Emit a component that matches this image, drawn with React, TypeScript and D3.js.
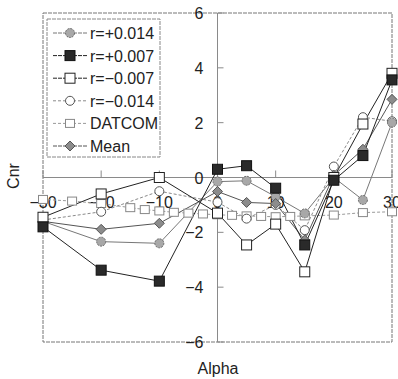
import * as d3 from 'd3';

const ALPHA = [-30, -20, -10, 0, 5, 10, 15, 20, 25, 30];
const R_P014 = [-1.6, -2.34, -2.4, -0.15, -0.12, -0.7, -1.31, 0.0, -0.82, 2.0];
const R_P007 = [-1.8, -3.38, -3.78, 0.3, 0.43, -0.39, -2.46, -0.1, 0.8, 3.56];
const R_M007 = [-1.45, -0.6, 0.0, -1.3, -2.46, -1.7, -3.44, 0.0, 1.95, 3.8];
const R_M014 = [-1.55, -1.25, -0.5, -0.9, -1.5, -1.0, -1.92, 0.4, 2.2, 2.05];
const MEAN = [-1.6, -1.89, -1.67, -0.51, -0.91, -0.95, -2.28, 0.08, 1.03, 2.85];

const DATCOM_ALPHA = [-30, -25, -20, -15, -12.5, -10, -7.5, -5, -2.5, 0, 2.5, 5, 7.5, 10, 12.5, 15, 20, 25, 30];
const DATCOM = [-0.8, -0.86, -0.95, -1.1, -1.17, -1.22, -1.27, -1.3, -1.33, -1.36, -1.38, -1.4, -1.42, -1.43, -1.42, -1.4, -1.37, -1.28, -1.25];

const X_TICKS = [-30, -20, -10, 0, 10, 20, 30];
const Y_TICKS = [-6, -4, -2, 0, 2, 4, 6];

const FONT = 'Liberation Sans, Arial, Helvetica, sans-serif';

type MarkerKind = 'hatchCircle' | 'blackSquare' | 'openSquare' | 'openCircle' | 'datcomSquare' | 'diamond';

interface Series {
  label: string;
  xs: number[];
  ys: number[];
  stroke: string;
  dash?: string;
  width: number;
  marker: MarkerKind;
}

const SERIES: Series[] = [
  { label: 'DATCOM', xs: DATCOM_ALPHA, ys: DATCOM, stroke: '#9a9a9a', dash: '3 2', width: 1, marker: 'datcomSquare' },
  { label: 'r=\u22120.014', xs: ALPHA, ys: R_M014, stroke: '#8a8a8a', dash: '3 2', width: 1, marker: 'openCircle' },
  { label: 'r=+0.014', xs: ALPHA, ys: R_P014, stroke: '#777', width: 1, marker: 'hatchCircle' },
  { label: 'Mean', xs: ALPHA, ys: MEAN, stroke: '#555', width: 1, marker: 'diamond' },
  { label: 'r=\u22120.007', xs: ALPHA, ys: R_M007, stroke: '#222', width: 1, marker: 'openSquare' },
  { label: 'r=+0.007', xs: ALPHA, ys: R_P007, stroke: '#222', width: 1, marker: 'blackSquare' },
];

const LEGEND_ORDER = ['r=+0.014', 'r=+0.007', 'r=\u22120.007', 'r=\u22120.014', 'DATCOM', 'Mean'];

function Marker({ kind, x, y }: { kind: MarkerKind; x: number; y: number }) {
  switch (kind) {
    case 'hatchCircle':
      return <circle cx={x} cy={y} r={4.5} fill="#a8a8a8" stroke="#6a6a6a" strokeWidth={1} strokeDasharray="2 1" />;
    case 'blackSquare':
      return <rect x={x - 5} y={y - 5} width={10} height={10} fill="#2a2a2a" stroke="#111" />;
    case 'openSquare':
      return <rect x={x - 5} y={y - 5} width={10} height={10} fill="#fff" stroke="#222" strokeWidth={1} />;
    case 'openCircle':
      return <circle cx={x} cy={y} r={4.5} fill="#fff" stroke="#555" strokeWidth={1} />;
    case 'datcomSquare':
      return <rect x={x - 4.5} y={y - 4} width={9} height={8} fill="#fff" stroke="#888" strokeWidth={1} />;
    case 'diamond':
      return (
        <path
          d={`M${x},${y - 5}L${x + 5},${y}L${x},${y + 5}L${x - 5},${y}Z`}
          fill="#8c8c8c"
          stroke="#555"
          strokeWidth={1}
        />
      );
  }
}

export default function App() {
  const width = 398;
  const height = 379;
  const left = 43;
  const right = 392;
  const top = 13;
  const bottom = 342;

  const x = d3.scaleLinear().domain([-30, 30]).range([left, right]);
  const y = d3.scaleLinear().domain([-6, 6]).range([bottom, top]);
  const x0 = x(0);
  const y0 = y(0);

  const line = d3
    .line<[number, number]>()
    .x((d) => x(d[0]))
    .y((d) => y(d[1]));

  const legendX = 47;
  const legendY = 19;
  const rowH = 22.6;

  return (
    <svg
      width={width}
      height={height}
      style={{ position: 'absolute', left: 0, top: 0, background: '#fff' }}
      fontFamily={FONT}
    >
      <rect width={width} height={height} fill="#fff" />
      {/* plot frame */}
      <rect x={left} y={top} width={right - left} height={bottom - top} fill="none" stroke="#777" strokeWidth={1} strokeDasharray="4 1" />

      {/* axes crossing at origin */}
      <line x1={left} x2={right} y1={y0} y2={y0} stroke="#8a8a8a" strokeWidth={1} />
      <line x1={x0} x2={x0} y1={top} y2={bottom} stroke="#8a8a8a" strokeWidth={1} />

      {X_TICKS.map((t) => (
        <g key={`xt${t}`}>
          <line x1={x(t)} x2={x(t)} y1={y0 - 7} y2={y0} stroke="#8a8a8a" />
          <text x={x(t)} y={y0 + 30} textAnchor="middle" fontSize={16} fill="#222">
            {t < 0 ? `\u2212${-t}` : t}
          </text>
        </g>
      ))}
      {Y_TICKS.map((t) => (
        <g key={`yt${t}`}>
          <line x1={x0} x2={x0 + 6} y1={y(t)} y2={y(t)} stroke="#8a8a8a" />
          <text x={x0 - 14} y={y(t) + 6} textAnchor="end" fontSize={16} fill="#222">
            {t < 0 ? `\u2212${-t}` : t}
          </text>
        </g>
      ))}

      {/* series lines */}
      {SERIES.map((s) => (
        <path
          key={`l${s.label}`}
          d={line(s.xs.map((v, i) => [v, s.ys[i]] as [number, number])) ?? ''}
          fill="none"
          stroke={s.stroke}
          strokeWidth={s.width}
          strokeDasharray={s.dash}
        />
      ))}
      {SERIES.map((s) =>
        s.xs.map((v, i) => <Marker key={`m${s.label}${i}`} kind={s.marker} x={x(v)} y={y(s.ys[i])} />),
      )}

      {/* legend */}
      <rect x={legendX} y={legendY} width={113} height={138} fill="#fff" stroke="#888" strokeWidth={1} strokeDasharray="4 1" />
      {LEGEND_ORDER.map((name, i) => {
        const s = SERIES.find((d) => d.label === name)!;
        const ly = legendY + 14 + i * rowH;
        return (
          <g key={`lg${name}`}>
            <line x1={53} x2={87} y1={ly} y2={ly} stroke={s.stroke} strokeWidth={1} strokeDasharray={s.dash ?? '4 1'} />
            <Marker kind={s.marker} x={70} y={ly} />
            <text x={90} y={ly + 6} fontSize={16} fill="#222">
              {name}
            </text>
          </g>
        );
      })}

      {/* axis titles */}
      <text transform={`translate(19, 176) rotate(-90)`} textAnchor="middle" fontSize={16} fill="#222">
        Cnr
      </text>
      <text x={218} y={374} textAnchor="middle" fontSize={16} fill="#222">
        Alpha
      </text>
    </svg>
  );
}
